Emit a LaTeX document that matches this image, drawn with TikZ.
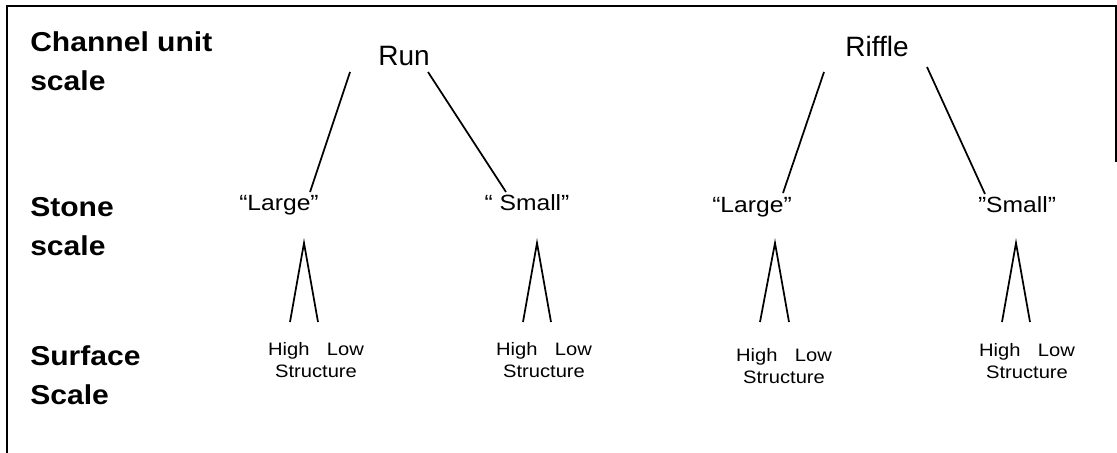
\documentclass[tikz,border=0pt]{standalone}
\usepackage{fontspec}
\setmainfont{Liberation Sans}
\newfontfamily\headfont[FakeStretch=1.1]{Liberation Sans}
\newfontfamily\widefont[FakeStretch=1.12]{Liberation Sans}
\usetikzlibrary{calc}
\begin{document}
\begin{tikzpicture}[x=0.75pt,y=-0.75pt]
	\useasboundingbox (0,0) rectangle (1117,453);
	
	\tikzstyle{myframe}=[line width=1.5pt]
	\tikzstyle{myhead}=[anchor=north west,
	inner sep=0pt,
	align=left,
	font=\headfont\bfseries\fontsize{20.5pt}{29.5pt}\selectfont
	]
	\tikzstyle{myunit}=[anchor=base, inner sep=0pt, font=\fontsize{21pt}{25pt}\selectfont]
	\tikzstyle{mystone}=[anchor=base, inner sep=0pt, font=\widefont\fontsize{16.5pt}{20pt}\selectfont]
	\tikzstyle{mysurf}=[anchor=north, inner sep=0pt, align=center, font=\widefont\fontsize{13.5pt}{16.5pt}\selectfont]
	\tikzstyle{myline}=[-, line width=1.3pt]
	
	% frame
	\draw[myframe] (7,453) -- (7,6) -- (1116,6) -- (1116,162);
	
	\coordinate (pch) at (30,31);
	\coordinate (pst) at (30,197);
	\coordinate (psu) at (30,345);
	
	\coordinate (prun) at (404,65);
	\coordinate (prif) at (877,57);
	
	\coordinate (pl1) at (279,210);
	\coordinate (ps1) at (527,210);
	\coordinate (pl2) at (752,212);
	\coordinate (ps2) at (1017,212);
	
	\coordinate (pt1) at (316,342);
	\coordinate (pt2) at (544,342);
	\coordinate (pt3) at (784,348);
	\coordinate (pt4) at (1027,343);
	
	\node[myhead] (chan) at (pch) {Channel unit\\scale};
	\node[myhead] (stone) at (pst) {Stone\\scale};
	\node[myhead] (surf) at (psu) {Surface\\Scale};
	
	\node[myunit] (run) at (prun) {Run};
	\node[myunit] (rif) at (prif) {Riffle};
	
	\node[mystone] (l1) at (pl1) {“Large”};
	\node[mystone] (s1) at (ps1) {“ Small”};
	\node[mystone] (l2) at (pl2) {“Large”};
	\node[mystone] (s2) at (ps2) {”Small”};
	
	\node[mysurf] (t1) at (pt1) {High\hspace{13pt}Low\\Structure};
	\node[mysurf] (t2) at (pt2) {High\hspace{13pt}Low\\Structure};
	\node[mysurf] (t3) at (pt3) {High\hspace{13pt}Low\\Structure};
	\node[mysurf] (t4) at (pt4) {High\hspace{13pt}Low\\Structure};
	
	\draw[myline] ($(run.base)+(-54,7)$) -- ($(l1.base)+(31,-18)$);
	\draw[myline] ($(run.base)+(24,7)$) -- ($(s1.base)+(-21,-18)$);
	\draw[myline] ($(rif.base)+(-53,15)$) -- ($(l2.base)+(31,-19)$);
	\draw[myline] ($(rif.base)+(50,10)$) -- ($(s2.base)+(-32,-18)$);
	
	\draw[myline] ($(t1.north)+(-26,-20)$) -- ($(l1.base)+(25,33)$) -- ($(t1.north)+(2,-20)$);
	\draw[myline] ($(t2.north)+(-21,-20)$) -- ($(s1.base)+(10,33)$) -- ($(t2.north)+(7,-20)$);
	\draw[myline] ($(t3.north)+(-24,-26)$) -- ($(l2.base)+(23,31)$) -- ($(t3.north)+(5,-26)$);
	\draw[myline] ($(t4.north)+(-25,-21)$) -- ($(s2.base)+(-1,31)$) -- ($(t4.north)+(3,-21)$);
	
\end{tikzpicture}
\end{document}
